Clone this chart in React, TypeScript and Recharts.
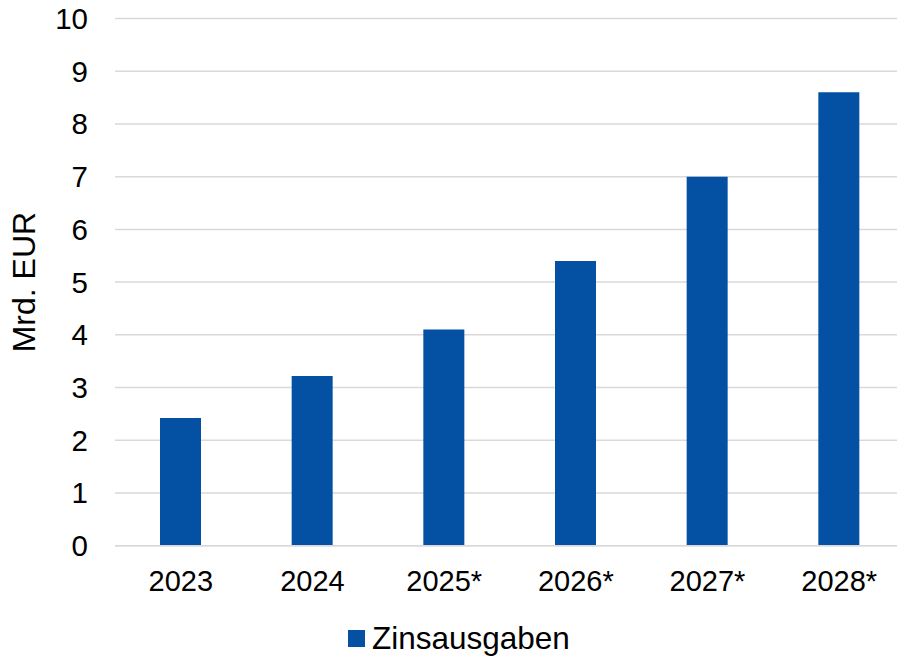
import React from 'react';
import { BarChart, Bar, XAxis, YAxis, CartesianGrid, Legend } from 'recharts';

const years = ['2023', '2024', '2025*', '2026*', '2027*', '2028*'];
const zinsausgaben = [2.42, 3.22, 4.1, 5.4, 7.0, 8.6];
const yTicks = [0, 1, 2, 3, 4, 5, 6, 7, 8, 9, 10];

const data = years.map((year, i) => ({ year, value: zinsausgaben[i] }));

const BLUE = '#0450A3';
const FONT = '"Liberation Sans", Arial, sans-serif';

const renderLegend = () => (
    <div style={{ display: 'flex', alignItems: 'center', fontFamily: FONT, fontSize: 31.5, lineHeight: '32px', height: 32, color: '#000' }}>
        <span style={{ display: 'inline-block', width: 17, height: 17, background: BLUE, marginRight: 7 }} />
        <span>Zinsausgaben</span>
    </div>
);

export default function App() {
    return (
        <div style={{ position: 'absolute', left: 0, top: 0, width: 897, height: 656, overflow: 'hidden', background: '#fff' }}>
            <BarChart
                width={920}
                height={656}
                data={data}
                margin={{ top: 18.5, right: 15, left: 30, bottom: 50.3 }}
            >
                <CartesianGrid vertical={false} stroke="#d9d9d9" strokeWidth={1.5} />
                <XAxis
                    dataKey="year"
                    height={60}
                    axisLine={{ stroke: '#d9d9d9', strokeWidth: 1.5 }}
                    tickLine={false}
                    tickMargin={19}
                    tick={{ fill: '#000', fontSize: 29, fontFamily: FONT }}
                />
                <YAxis
                    width={85}
                    domain={[0, 10]}
                    ticks={yTicks}
                    interval={0}
                    axisLine={false}
                    tickLine={false}
                    tickMargin={21}
                    tick={{ fill: '#000', fontSize: 29.5, fontFamily: FONT }}
                    label={{
                        value: 'Mrd. EUR',
                        angle: -90,
                        position: 'center',
                        dx: -49,
                        style: { fill: '#000', fontSize: 32, fontFamily: FONT },
                    }}
                />
                <Legend
                    layout="horizontal"
                    verticalAlign="middle"
                    align="center"
                    content={renderLegend}
                    wrapperStyle={{ position: 'absolute', left: 348, top: 622, width: 320 }}
                />
                <Bar dataKey="value" fill={BLUE} barSize={41} isAnimationActive={false} />
            </BarChart>
        </div>
    );
}
